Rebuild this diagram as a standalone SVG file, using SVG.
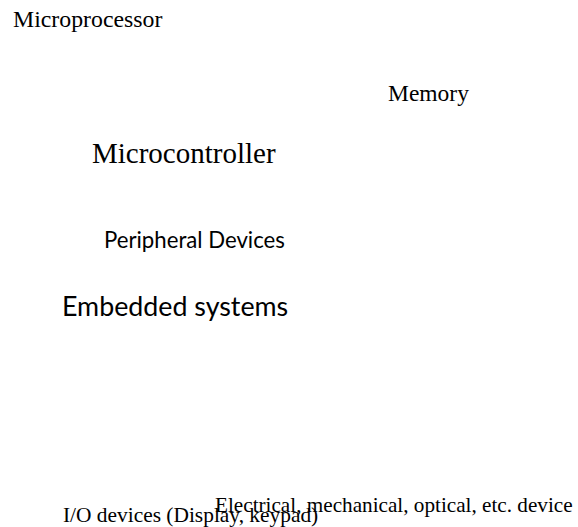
<svg xmlns="http://www.w3.org/2000/svg" width="578" height="527" viewBox="0 0 578 527">
<style>
.s{font-family:"Liberation Serif","Times New Roman",serif;fill:#000}
.c{font-family:Lato,"Liberation Sans",sans-serif;fill:#000}
</style>
<rect width="578" height="527" fill="#fff"/>
<g id="microprocessor"><text class="s" x="13" y="27" font-size="23.8">Microprocessor</text></g>
<g id="memory"><text class="s" x="388" y="101" font-size="23.5">Memory</text></g>
<g id="microcontroller"><text class="s" x="92" y="163" font-size="29">Microcontroller</text></g>
<g id="peripheral"><text class="c" x="104" y="248" font-size="22.2">Peripheral Devices</text></g>
<g id="embedded"><text class="c" x="62" y="316" font-size="26.8">Embedded systems</text></g>
<g id="io"><text class="s" x="63" y="522" font-size="21.4">I/O devices (Display, keypad)</text></g>
<g id="electrical"><text class="s" x="215" y="512" font-size="21.2">Electrical, mechanical, optical, etc. device</text></g>
<g id="connectors"></g>
</svg>
